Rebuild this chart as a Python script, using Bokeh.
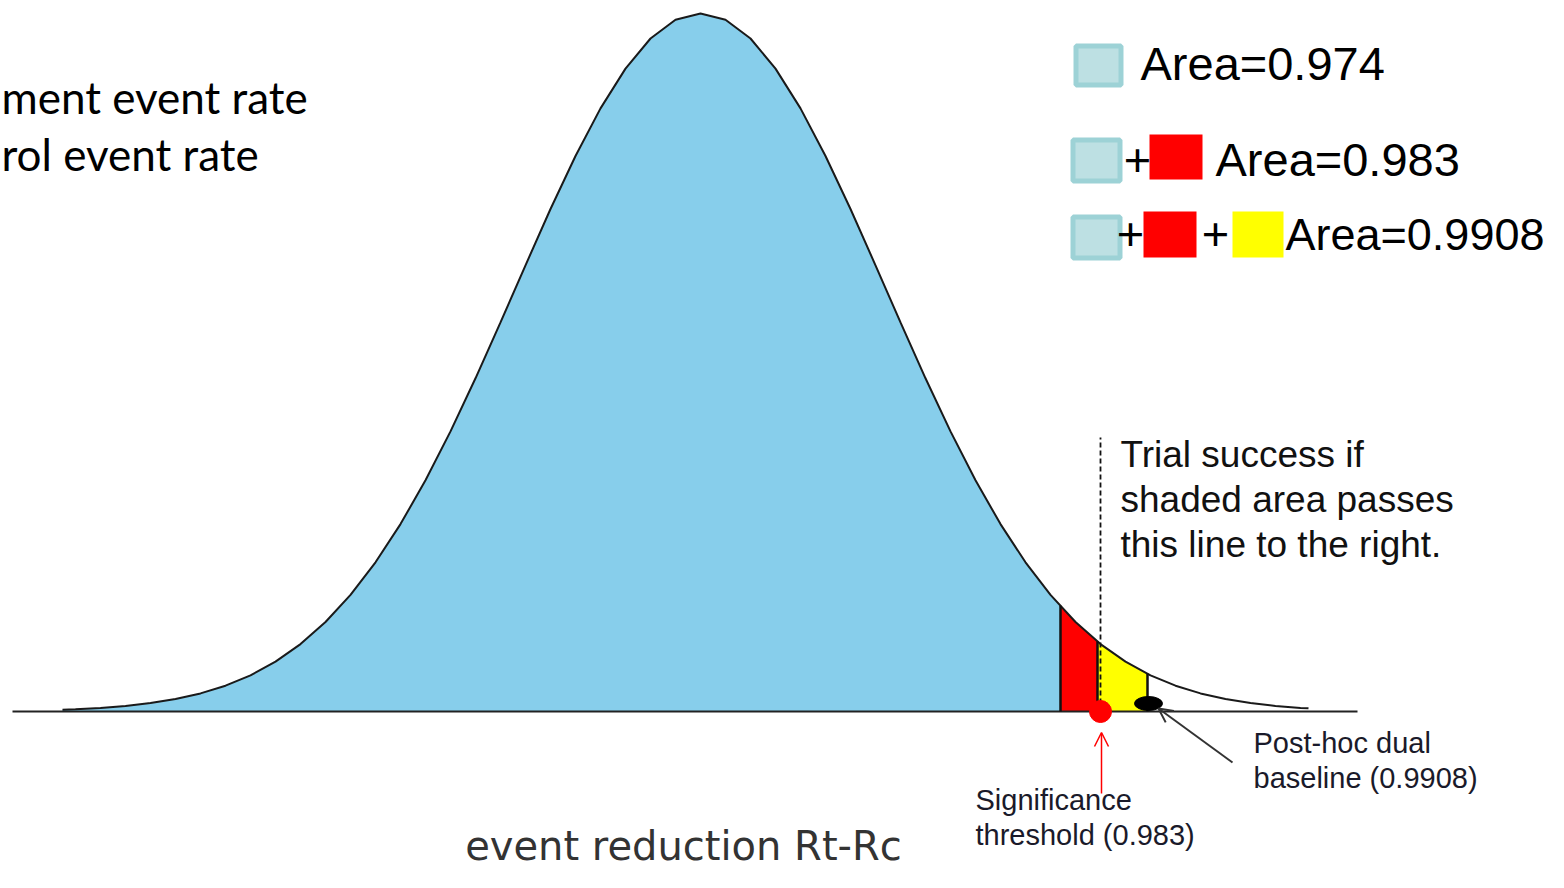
import numpy as np
from bokeh.plotting import figure
from bokeh.models import Range1d, Arrow, OpenHead
from bokeh.core.properties import value
from bokeh.embed import file_html
from bokeh.resources import INLINE

# ---------------- data ----------------
# density curve of the event reduction (arbitrary x units, height above baseline)
curve_x = [62, 75, 100, 125, 150, 175, 200, 225, 250, 275, 300, 325, 350, 375,
           400, 425, 450, 475, 500, 525, 550, 575, 600, 625, 650, 675, 700,
           725, 750, 775, 800, 825, 850, 875, 900, 925, 950, 975, 1000, 1025,
           1050, 1075, 1100, 1125, 1150, 1175, 1200, 1225, 1250, 1275, 1300, 1308]
curve_y = [1.8, 2.3, 3.6, 5.6, 8.4, 12.5, 18.1, 25.8, 36.2, 49.9, 67.4, 89.5,
           116.6, 149.2, 187.4, 231.2, 280.1, 333.2, 389.1, 446.2, 502.5, 555.5,
           603.1, 642.9, 673.0, 691.7, 698.0,
           691.7, 673.0, 642.9, 603.1, 555.5, 502.5, 446.2, 389.1, 333.2, 280.1,
           231.2, 187.4, 149.2, 116.6, 89.5, 67.4, 49.9, 36.2, 25.8, 18.1, 12.5,
           8.4, 5.6, 3.6, 3.2]

shade_bounds = [1060, 1097, 1147]          # right edges of blue, red, yellow areas
shade_colors = ["#87ceeb", "#ff0000", "#ffff00"]
threshold_x = 1100                          # significance threshold (0.983)
posthoc_x = 1148                            # post-hoc dual baseline (0.9908)
area_labels = ["Area=0.974", "Area=0.983", "Area=0.9908"]
left_lines = ["ment event rate", "rol event rate"]
note_lines = ["Trial success if", "shaded area passes", "this line to the right."]
sig_lines = ["Significance", "threshold (0.983)"]
post_lines = ["Post-hoc dual", "baseline (0.9908)"]
x_title = "event reduction Rt-Rc"

# ---------------- figure ----------------
W, H = 1548, 872
BASE = 711  # pixel row of the baseline


def ty(px, fs):
    """data y for a text whose baseline sits at pixel row px"""
    return BASE - px + 0.4 * fs


p = figure(width=W, height=H, x_range=Range1d(0, W),
           y_range=Range1d(BASE - H, BASE),
           output_backend="svg", toolbar_location=None,
           x_axis_type=None, y_axis_type=None, min_border=0,
           outline_line_color=None, background_fill_color="white")
p.grid.visible = False

cx = np.array(curve_x, dtype=float)
cy = np.array(curve_y, dtype=float)

# shaded areas
edges = [cx[0]] + shade_bounds
for i in range(3):
    a, b = edges[i], edges[i + 1]
    m = (cx > a) & (cx < b)
    xs = np.concatenate([[a], cx[m], [b]])
    ys = np.interp(xs, cx, cy)
    p.varea(x=xs, y1=np.zeros_like(xs), y2=ys, fill_color=shade_colors[i])

# baseline
p.segment(x0=[12], y0=[0], x1=[1357], y1=[0], line_color="#222222", line_width=2)

# curve outline
p.line(cx, cy, line_color="#1a1a1a", line_width=2)

# boundary lines of the shaded areas
bx = np.array(shade_bounds, dtype=float)
p.segment(x0=bx, y0=np.zeros_like(bx), x1=bx, y1=np.interp(bx, cx, cy),
          line_color="#111111", line_width=2.5)

# dashed threshold line
p.segment(x0=[threshold_x], y0=[0], x1=[threshold_x], y1=[274],
          line_color="#111111", line_width=1.8, line_dash="5 3")

# markers
p.scatter([threshold_x], [0], size=22, color="#ff0000")
p.ellipse(x=[posthoc_x], y=[8], width=28, height=14, color="#000000")

# arrows
p.add_layout(Arrow(end=OpenHead(size=14, line_color="#ff0000", line_width=1.5),
                   x_start=threshold_x + 1, y_start=-82, x_end=threshold_x + 1, y_end=-21,
                   line_color="#ff0000", line_width=1.5))
p.add_layout(Arrow(end=OpenHead(size=14, line_color="#333333", line_width=2),
                   x_start=1232, y_start=-51, x_end=posthoc_x + 10, y_end=3,
                   line_color="#333333", line_width=2))

# legend squares
blue_fill, blue_line = "#bde0e3", "#9dd2d6"
p.quad(left=[1075.5, 1072.5, 1072.5], right=[1120.5, 1119.5, 1119.5],
       bottom=[626.5, 530.5, 453.5], top=[665.5, 571.5, 494.5],
       fill_color=blue_fill, line_color=blue_line, line_width=5)
p.quad(left=[1149, 1143], right=[1202, 1196], bottom=[532, 454], top=[577, 500],
       fill_color="#ff0000", line_color=None)
p.quad(left=[1232], right=[1283], bottom=[454], top=[500],
       fill_color="#ffff00", line_color=None)

arial = value("Liberation Sans")
p.text(x=[1140, 1215], y=[ty(82, 47), ty(178, 47)], text=area_labels[:2],
       text_font=arial, text_font_size="47px", text_color="#000000",
       text_align="left", text_baseline="alphabetic")
p.text(x=[1285], y=[ty(252, 45)], text=area_labels[2:],
       text_font=arial, text_font_size="45px", text_color="#000000",
       text_align="left", text_baseline="alphabetic")
p.text(x=[1137, 1130, 1215], y=[ty(178, 47), ty(252, 47), ty(252, 47)],
       text=["+", "+", "+"],
       text_font=arial, text_font_size="47px", text_color="#000000",
       text_align="center", text_baseline="alphabetic")

# left text (cut off at the edge)
p.text(x=[1, 1], y=[ty(114, 44), ty(171, 44)], text=left_lines, text_font=value("Lato"),
       text_font_size="44px", text_color="#000000",
       text_align="left", text_baseline="alphabetic")

# annotations
p.text(x=[1120] * 3, y=[ty(469, 37), ty(514, 37), ty(559, 37)], text=note_lines,
       text_font=arial, text_font_size="37px", text_color="#111111",
       text_align="left", text_baseline="alphabetic")
p.text(x=[975, 975], y=[ty(811, 29), ty(846, 29)], text=sig_lines, text_font=arial,
       text_font_size="29px", text_color="#1a1a2a",
       text_align="left", text_baseline="alphabetic")
p.text(x=[1253, 1253], y=[ty(754, 29), ty(789, 29)], text=post_lines, text_font=arial,
       text_font_size="29px", text_color="#1a1a2a",
       text_align="left", text_baseline="alphabetic")

# x title
p.text(x=[683], y=[ty(861, 40)], text=[x_title], text_font=value("DejaVu Sans"),
       text_font_size="40px", text_color="#333333",
       text_align="center", text_baseline="alphabetic")

open("out.html", "w").write(file_html(p, INLINE))
